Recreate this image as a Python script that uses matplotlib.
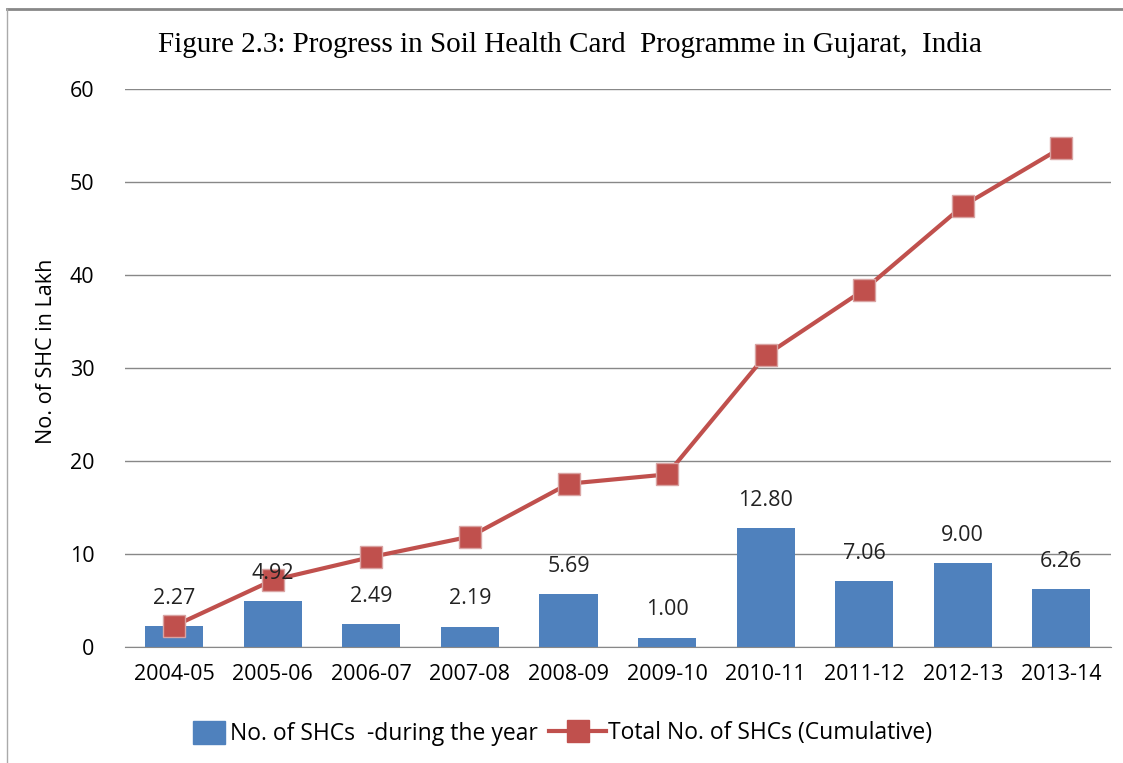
import matplotlib
matplotlib.use("Agg")
import matplotlib.pyplot as plt
from matplotlib.lines import Line2D
import numpy as np

years = ["2004-05", "2005-06", "2006-07", "2007-08", "2008-09",
         "2009-10", "2010-11", "2011-12", "2012-13", "2013-14"]
annual = [2.27, 4.92, 2.49, 2.19, 5.69, 1.00, 12.80, 7.06, 9.00, 6.26]
cumulative = [2.27, 7.19, 9.68, 11.87, 17.56, 18.56, 31.36, 38.42, 47.42, 53.68]
yticks = [0, 10, 20, 30, 40, 50, 60]

BLUE = "#4F81BD"
RED = "#C0504D"
SANS = ["Open Sans", "DejaVu Sans"]
FS = 15.5

fig = plt.figure(figsize=(11.23, 7.63), dpi=100)
ax = fig.add_axes([0.1113, 0.152, 0.8777, 0.7314])

x = np.arange(len(years))
ax.bar(x, annual, width=0.59, color=BLUE, zorder=2)
ax.plot(x, cumulative, color=RED, lw=3, marker="s", markersize=15.5,
        markerfacecolor=RED, markeredgecolor="#D9A3A2", markeredgewidth=1, zorder=3)

for xi, v in zip(x, annual):
    ax.annotate(f"{v:.2f}", (xi, v), xytext=(0, 20), textcoords="offset points",
                ha="center", va="center", fontsize=FS, family=SANS, color="#222222", zorder=4)

ax.set_xlim(-0.5, len(years) - 0.5)
ax.set_ylim(0, 60)
ax.set_yticks(yticks)
ax.set_xticks(x)
ax.set_xticklabels(years, family=SANS, fontsize=FS)
ax.set_yticklabels([str(t) for t in yticks], family=SANS, fontsize=FS)
ax.tick_params(axis="both", length=0)
ax.tick_params(axis="y", pad=22)
ax.tick_params(axis="x", pad=12)
ax.yaxis.grid(True, color="#888888", lw=1)
ax.set_axisbelow(True)
for s in ["top", "right", "left"]:
    ax.spines[s].set_visible(False)
ax.spines["bottom"].set_color("#888888")
ax.set_ylabel("No. of SHC in Lakh", family=SANS, fontsize=FS)
ax.yaxis.set_label_coords(-0.069, 0.529)

fig.text(0.508, 0.941, "Figure 2.3: Progress in Soil Health Card  Programme in Gujarat,  India",
         ha="center", va="center", family=["Liberation Serif", "DejaVu Serif"], fontsize=21)

leg_prop = {"family": SANS, "size": 16.5}
leg1 = fig.legend([plt.Rectangle((0, 0), 1, 1, color=BLUE)], ["No. of SHCs  -during the year"],
                  loc="center left", bbox_to_anchor=(0.172, 0.039), frameon=False,
                  prop=leg_prop, handlelength=1.4, handleheight=1.2, handletextpad=0.2,
                  borderpad=0, borderaxespad=0)
leg2 = fig.legend([Line2D([], [], color=RED, lw=3, marker="s", markersize=15.5)],
                  ["Total No. of SHCs (Cumulative)"],
                  loc="center left", bbox_to_anchor=(0.489, 0.039), frameon=False,
                  prop=leg_prop, handlelength=2.5, handletextpad=0.05,
                  borderpad=0, borderaxespad=0)

# frame lines (top and left)
fig.add_artist(Line2D([0.006, 1], [0.988, 0.988], transform=fig.transFigure, color="#888888", lw=2))
fig.add_artist(Line2D([0.006, 0.006], [0, 0.988], transform=fig.transFigure, color="#aaaaaa", lw=1))

fig.savefig("out.png", dpi=100)
